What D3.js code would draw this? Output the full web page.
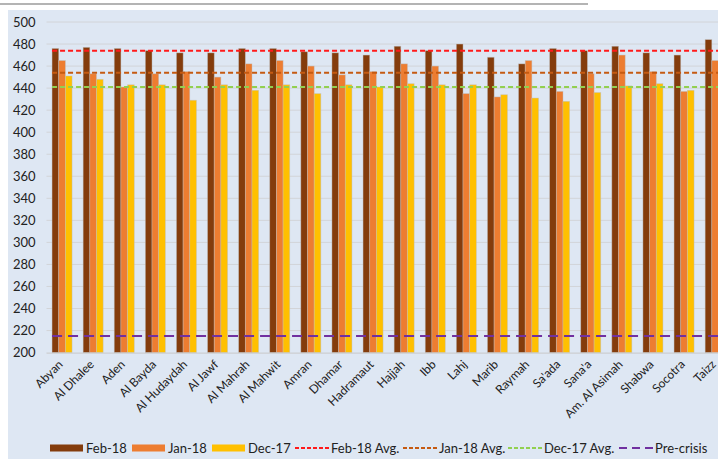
<!DOCTYPE html>
<html>
<head>
<meta charset="utf-8">
<script src="https://cdn.jsdelivr.net/npm/d3@7"></script>
<style>
  body { margin: 0; background: #fff; }
  svg { display: block; font-family: Lato, "Open Sans", sans-serif; }
</style>
</head>
<body>
<div id="chart"></div>
<script>
// governorates
var categories = ["Abyan", "Al Dhalee", "Aden", "Al Bayda", "Al Hudaydah", "Al Jawf", "Al Mahrah",
  "Al Mahwit", "Amran", "Dhamar", "Hadramaut", "Hajjah", "Ibb", "Lahj", "Marib", "Raymah",
  "Sa'ada", "Sana'a", "Am. Al Asimah", "Shabwa", "Socotra", "Taizz"];

var feb18 = [476, 477, 476, 474, 472, 472, 476, 476, 473, 472, 470, 478, 474, 480, 468, 462, 476, 474, 478, 472, 470, 484];
var jan18 = [465, 453, 441, 453, 455, 450, 462, 465, 460, 452, 455, 462, 460, 435, 432, 465, 437, 453, 470, 455, 437, 465];
var dec17 = [451, 448, 443, 443, 429, 443, 438, 443, 435, 443, 441, 444, 443, 443, 434, 431, 428, 436, 442, 444, 438, 444];

var feb18Avg = 474;
var jan18Avg = 454;
var dec17Avg = 441;
var preCrisis = 215;

var yTicks = [200, 220, 240, 260, 280, 300, 320, 340, 360, 380, 400, 420, 440, 460, 480, 500];

var seriesNames = ["Feb-18", "Jan-18", "Dec-17"];
var seriesData = [feb18, jan18, dec17];
var seriesColors = ["#843c0c", "#ed7d31", "#ffc000"];

var W = 718, H = 459;
var plotL = 46.5, plotR = 730.7, plotT = 22, plotB = 352.6;

var svg = d3.select("#chart").append("svg")
  .attr("width", W).attr("height", H);

// chart area background
svg.append("rect")
  .attr("x", 8).attr("y", 10).attr("width", W - 8).attr("height", H - 10)
  .attr("fill", "#dee7f3");

// gray line from title area
svg.append("line")
  .attr("x1", 0).attr("x2", 588).attr("y1", 4).attr("y2", 4)
  .attr("stroke", "#b4b4b4").attr("stroke-width", 2);

var y = d3.scaleLinear().domain([200, 500]).range([plotB, plotT]);
var x0 = d3.scaleBand().domain(categories).range([plotL, plotR])
  .paddingInner(0.357).paddingOuter(0.1785);
var x1 = d3.scaleBand().domain(seriesNames).range([0, x0.bandwidth()]);

// grid
svg.append("g").selectAll("line")
  .data(yTicks.slice(1))
  .enter().append("line")
  .attr("x1", plotL).attr("x2", plotR)
  .attr("y1", function(d) { return y(d); })
  .attr("y2", function(d) { return y(d); })
  .attr("stroke", "#d2d4d8").attr("stroke-width", 1);

// y axis
var yAxis = svg.append("g")
  .attr("transform", "translate(" + (plotL - 11) + ",0)")
  .call(d3.axisLeft(y).tickValues(yTicks).tickSize(0).tickPadding(0));
yAxis.select(".domain").remove();
yAxis.selectAll("text").attr("font-size", 13).attr("fill", "#222")
  .style("font-family", "Lato, sans-serif");

// bars
var groups = svg.append("g").selectAll("g")
  .data(categories)
  .enter().append("g")
  .attr("transform", function(d) { return "translate(" + x0(d) + ",0)"; });

groups.selectAll("rect")
  .data(function(d, i) {
    return seriesNames.map(function(s, k) { return { s: s, v: seriesData[k][i], c: seriesColors[k] }; });
  })
  .enter().append("rect")
  .attr("x", function(d) { return x1(d.s); })
  .attr("width", x1.bandwidth())
  .attr("y", function(d) { return y(d.v); })
  .attr("height", function(d) { return y(200) - y(d.v); })
  .attr("fill", function(d) { return d.c; })
  .attr("stroke", "rgba(190,190,190,0.6)")
  .attr("stroke-width", 0.7);

// x axis line
svg.append("line")
  .attr("x1", plotL).attr("x2", plotR)
  .attr("y1", y(200) + 0.5).attr("y2", y(200) + 0.5)
  .attr("stroke", "#c8c8c8").attr("stroke-width", 1);

// x labels
svg.append("g").selectAll("text")
  .data(categories)
  .enter().append("text")
  .attr("transform", function(d) {
    var cx = x0(d) + x0.bandwidth() / 2 - 1;
    return "translate(" + cx + "," + (y(200) + 10) + ") rotate(-45)";
  })
  .attr("text-anchor", "end")
  .attr("dy", "0.3em")
  .attr("font-size", 12)
  .attr("fill", "#222")
  .text(function(d) { return d; });

// reference lines
var refLines = [
  { v: feb18Avg, c: "#ff1a1a", dash: "5,3", w: 2 },
  { v: jan18Avg, c: "#c55a11", dash: "5,3", w: 2 },
  { v: dec17Avg, c: "#92d050", dash: "5,3", w: 2 },
  { v: preCrisis, c: "#7030a0", dash: "10,6", w: 2 }
];
svg.append("g").selectAll("line")
  .data(refLines)
  .enter().append("line")
  .attr("x1", x0(categories[0]) + x1("Feb-18")).attr("x2", plotR)
  .attr("y1", function(d) { return y(d.v); })
  .attr("y2", function(d) { return y(d.v); })
  .attr("stroke", function(d) { return d.c; })
  .attr("stroke-width", function(d) { return d.w; })
  .attr("stroke-dasharray", function(d) { return d.dash; });

// legend
var legendItems = [
  { name: "Feb-18", type: "box", c: seriesColors[0], x: 50 },
  { name: "Jan-18", type: "box", c: seriesColors[1], x: 132 },
  { name: "Dec-17", type: "box", c: seriesColors[2], x: 212 },
  { name: "Feb-18 Avg.", type: "line", c: "#ff1a1a", dash: "4,2", x: 295 },
  { name: "Jan-18 Avg.", type: "line", c: "#c55a11", dash: "4,2", x: 403 },
  { name: "Dec-17 Avg.", type: "line", c: "#92d050", dash: "4,2", x: 508 },
  { name: "Pre-crisis", type: "line", c: "#7030a0", dash: "8,5", x: 619 }
];
var ly = 448;
var leg = svg.append("g").selectAll("g")
  .data(legendItems)
  .enter().append("g")
  .attr("transform", function(d) { return "translate(" + d.x + "," + ly + ")"; });

leg.filter(function(d) { return d.type == "box"; })
  .append("rect")
  .attr("x", 0).attr("y", -3.5).attr("width", 33).attr("height", 7)
  .attr("fill", function(d) { return d.c; });
leg.filter(function(d) { return d.type == "line"; })
  .append("line")
  .attr("x1", 0).attr("x2", 35).attr("y1", 0).attr("y2", 0)
  .attr("stroke", function(d) { return d.c; })
  .attr("stroke-width", 2)
  .attr("stroke-dasharray", function(d) { return d.dash; });
leg.append("text")
  .attr("x", 36)
  .attr("y", 0).attr("dy", "0.35em")
  .attr("font-size", 13).attr("fill", "#222")
  .text(function(d) { return d.name; });
</script>
</body>
</html>
